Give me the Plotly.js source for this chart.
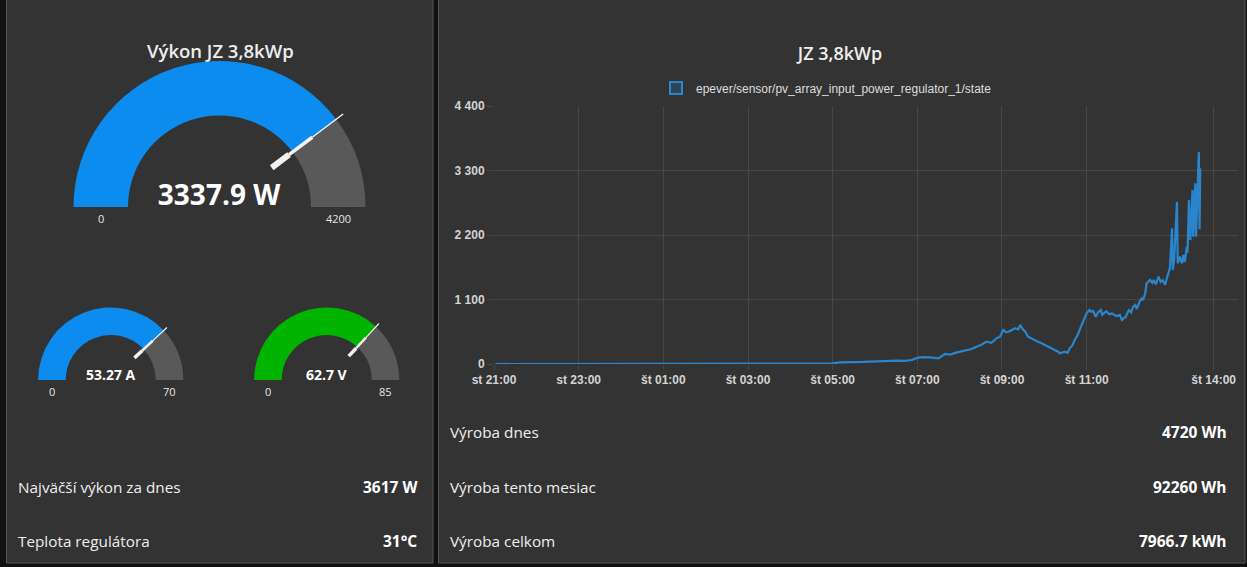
<!DOCTYPE html>
<html>
<head>
<meta charset="utf-8">
<script src="https://cdn.plot.ly/plotly-3.0.1.min.js"></script>
<style>
  html, body { margin: 0; padding: 0; background: #111111; }
  #chart { width: 1247px; height: 567px; }
</style>
</head>
<body>
<div id="chart"></div>
<script>
// ---------------- DATA ----------------
const chartTitle = 'JZ 3,8kWp';
const seriesName = 'epever/sensor/pv_array_input_power_regulator_1/state';

const powerTimes = [
  '2023-05-17 21:02', '2023-05-17 22:00', '2023-05-17 23:00', '2023-05-18 00:00',
  '2023-05-18 01:00', '2023-05-18 02:00', '2023-05-18 03:00', '2023-05-18 04:00',
  '2023-05-18 04:50', '2023-05-18 05:00', '2023-05-18 05:10', '2023-05-18 05:20',
  '2023-05-18 05:30', '2023-05-18 05:43', '2023-05-18 05:55', '2023-05-18 06:07',
  '2023-05-18 06:20', '2023-05-18 06:31', '2023-05-18 06:42', '2023-05-18 06:52',
  '2023-05-18 07:01', '2023-05-18 07:08', '2023-05-18 07:18', '2023-05-18 07:25',
  '2023-05-18 07:30', '2023-05-18 07:39', '2023-05-18 07:47', '2023-05-18 07:55',
  '2023-05-18 08:02', '2023-05-18 08:10', '2023-05-18 08:17', '2023-05-18 08:24',
  '2023-05-18 08:31', '2023-05-18 08:38', '2023-05-18 08:45', '2023-05-18 08:52',
  '2023-05-18 08:57', '2023-05-18 09:02', '2023-05-18 09:06', '2023-05-18 09:09',
  '2023-05-18 09:14', '2023-05-18 09:19', '2023-05-18 09:23', '2023-05-18 09:26',
  '2023-05-18 09:29', '2023-05-18 09:33', '2023-05-18 09:37', '2023-05-18 09:42',
  '2023-05-18 09:46', '2023-05-18 09:51', '2023-05-18 09:56', '2023-05-18 10:00',
  '2023-05-18 10:05', '2023-05-18 10:10', '2023-05-18 10:15', '2023-05-18 10:19',
  '2023-05-18 10:22', '2023-05-18 10:26', '2023-05-18 10:29', '2023-05-18 10:33',
  '2023-05-18 10:36', '2023-05-18 10:40', '2023-05-18 10:43', '2023-05-18 10:47',
  '2023-05-18 10:50', '2023-05-18 10:54', '2023-05-18 10:57', '2023-05-18 11:00',
  '2023-05-18 11:04', '2023-05-18 11:06', '2023-05-18 11:09', '2023-05-18 11:13',
  '2023-05-18 11:16', '2023-05-18 11:20', '2023-05-18 11:22', '2023-05-18 11:24',
  '2023-05-18 11:28', '2023-05-18 11:32', '2023-05-18 11:36', '2023-05-18 11:40',
  '2023-05-18 11:43', '2023-05-18 11:47', '2023-05-18 11:50', '2023-05-18 11:53',
  '2023-05-18 11:55', '2023-05-18 11:58', '2023-05-18 12:00', '2023-05-18 12:03',
  '2023-05-18 12:06', '2023-05-18 12:09', '2023-05-18 12:11', '2023-05-18 12:15',
  '2023-05-18 12:18', '2023-05-18 12:20', '2023-05-18 12:23', '2023-05-18 12:25',
  '2023-05-18 12:28', '2023-05-18 12:30', '2023-05-18 12:33', '2023-05-18 12:35',
  '2023-05-18 12:38', '2023-05-18 12:42', '2023-05-18 12:45', '2023-05-18 12:48',
  '2023-05-18 12:51', '2023-05-18 12:54', '2023-05-18 12:56', '2023-05-18 12:58',
  '2023-05-18 13:01', '2023-05-18 13:02', '2023-05-18 13:04', '2023-05-18 13:08',
  '2023-05-18 13:09', '2023-05-18 13:12', '2023-05-18 13:15', '2023-05-18 13:17',
  '2023-05-18 13:19', '2023-05-18 13:22', '2023-05-18 13:23', '2023-05-18 13:25',
  '2023-05-18 13:27', '2023-05-18 13:30', '2023-05-18 13:31', '2023-05-18 13:34',
  '2023-05-18 13:35', '2023-05-18 13:39', '2023-05-18 13:40', '2023-05-18 13:41'
];
const powerValues = [
  0, 0, 0, 0,
  0, 0, 0, 0,
  0, 10, 29, 25,
  33, 35, 42, 51,
  48, 57, 55, 68,
  108, 118, 114, 105,
  97, 171, 160, 193,
  210, 239, 255, 296,
  330, 381, 360, 438,
  466, 580, 540, 551,
  575, 609, 590, 665,
  600, 551, 466, 430,
  409, 380, 352, 330,
  296, 270, 239, 215,
  182, 200, 210, 190,
  267, 320, 409, 490,
  580, 700, 807, 870,
  921, 892, 905, 807,
  880, 921, 840, 864,
  900, 850, 864, 830,
  818, 836, 750, 790,
  796, 880, 921, 880,
  977, 1006, 940, 1063,
  1120, 1091, 1206, 1376,
  1420, 1433, 1387, 1433,
  1360, 1490, 1400, 1430,
  1350, 1460, 1550, 1640,
  2314, 1600, 1774, 2768,
  1717, 1830, 1717, 1860,
  1740, 2001, 1900, 2797,
  2115, 2967, 2172, 3081,
  2172, 3617, 2300, 3338
];

const xRange = ['2023-05-17 21:00', '2023-05-18 14:34:30'];
const xTickVals = ['2023-05-17 21:00', '2023-05-17 23:00', '2023-05-18 01:00', '2023-05-18 03:00',
                   '2023-05-18 05:00', '2023-05-18 07:00', '2023-05-18 09:00', '2023-05-18 11:00',
                   '2023-05-18 14:00'];
const xTickText = ['st 21:00', 'st 23:00', 'št 01:00', 'št 03:00', 'št 05:00', 'št 07:00',
                   'št 09:00', 'št 11:00', 'št 14:00'];
const yRange = [0, 4400];
const yTickVals = [0, 1100, 2200, 3300, 4400];
const yTickText = ['0', '1 100', '2 200', '3 300', '4 400'];

const gaugeTitle = 'Výkon JZ 3,8kWp';
const gaugeValues = [3337.9, 53.27, 62.7];
const gaugeMin = [0, 0, 0];
const gaugeMax = [4200, 70, 85];
const gaugeUnits = [' W', ' A', ' V'];
const gaugeFormats = ['.1f', '.2f', '.1f'];

const statLabelsLeft = ['Najväčší výkon za dnes', 'Teplota regulátora'];
const statValuesLeft = ['3617 W', '31°C'];
const statLabelsRight = ['Výroba dnes', 'Výroba tento mesiac', 'Výroba celkom'];
const statValuesRight = ['4720 Wh', '92260 Wh', '7966.7 kWh'];

// ---------------- LAYOUT / STYLE ----------------
const W = 1247, H = 567;
const px = x => x / W;
const py = y => 1 - y / H;
const INNER = 0.75; // plotly angular gauge inner radius ratio

const uiFont = 'Open Sans, Noto Sans, sans-serif';
const chartFont = 'Liberation Sans, Arial, sans-serif';
const gaugeColors = ['#0b8cee', '#0b8cee', '#00b400'];
const gaugeRest = '#595959';
const lineColor = '#2a86cc';
const gridColor = '#474747';

// pixel geometry of each gauge (center x, baseline y, outer radius, inner radius)
const gaugeGeom = [
  { cx: 219.5, base: 207, R: 146,  rIn: 91.5, needleW: [1.5, 3.5, 6],   numSize: 28, numY: 193.5 },
  { cx: 110.7, base: 380, R: 72.6, rIn: 45,   needleW: [1.2, 2.5, 3.5], numSize: 14, numY: 374 },
  { cx: 326.7, base: 380, R: 72.6, rIn: 45,   needleW: [1.2, 2.5, 3.5], numSize: 14, numY: 374 }
];

function dom(cx, base, R) {
  return { x: [px(cx - R), px(cx + R)], y: [py(base), py(base - R)] };
}

const traces = [];

// main line chart
traces.push({
  type: 'scatter', mode: 'lines', x: powerTimes, y: powerValues,
  name: seriesName, showlegend: false, legendgroup: 'pv',
  line: { color: lineColor, width: 2.2 }, xaxis: 'x', yaxis: 'y', hoverinfo: 'x+y'
});
// legend entry (box style, like the original legend)
traces.push({
  type: 'bar', x: [null], y: [null], name: seriesName, legendgroup: 'pv', showlegend: true,
  marker: { color: 'rgba(42,134,204,0.22)', line: { color: lineColor, width: 2 } },
  xaxis: 'x', yaxis: 'y', hoverinfo: 'skip'
});

// gauge bands (two concentric plotly gauges give the thick band)
gaugeValues.forEach((v, i) => {
  const g = gaugeGeom[i];
  const gaugeSpec = {
    shape: 'angular',
    axis: { range: [gaugeMin[i], gaugeMax[i]], visible: false },
    bar: { color: gaugeColors[i], thickness: 1, line: { width: 0 } },
    bgcolor: 'rgba(0,0,0,0)', borderwidth: 0,
    steps: [{ range: [v, gaugeMax[i]], color: gaugeRest, thickness: 1, line: { width: 0 } }]
  };
  traces.push({ type: 'indicator', mode: 'gauge', value: v,
    domain: dom(g.cx, g.base, g.R), gauge: gaugeSpec });
  traces.push({ type: 'indicator', mode: 'gauge', value: v,
    domain: dom(g.cx, g.base, g.rIn / INNER), gauge: gaugeSpec });
});
// needles: three transparent gauges whose thresholds form a tapered pointer
gaugeValues.forEach((v, i) => {
  const g = gaugeGeom[i];
  let r = g.R * 1.06;
  for (let k = 0; k < 3; k++) {
    traces.push({ type: 'indicator', mode: 'gauge', value: v,
      domain: dom(g.cx, g.base, r),
      gauge: { shape: 'angular',
        axis: { range: [gaugeMin[i], gaugeMax[i]], visible: false },
        bar: { color: 'rgba(0,0,0,0)', thickness: 0, line: { width: 0 } },
        bgcolor: 'rgba(0,0,0,0)', borderwidth: 0,
        threshold: { value: v, thickness: 1, line: { color: '#f2f2f2', width: g.needleW[k] } } } });
    r = r * INNER;
  }
});
// gauge readouts
gaugeValues.forEach((v, i) => {
  const g = gaugeGeom[i];
  const hh = g.numSize * 0.6;
  traces.push({ type: 'indicator', mode: 'number', value: v,
    domain: { x: [px(g.cx - g.R), px(g.cx + g.R)], y: [py(g.numY + hh), py(g.numY - hh)] },
    number: { suffix: gaugeUnits[i], valueformat: gaugeFormats[i],
      font: { family: uiFont, size: g.numSize, color: '#ffffff', weight: 700 } } });
});

const annotations = [];
annotations.push({ text: gaugeTitle, x: px(220), y: py(50), xref: 'paper', yref: 'paper',
  xanchor: 'center', yanchor: 'middle', showarrow: false,
  font: { family: uiFont, size: 18.5, color: '#eeeeee', weight: 600 } });
gaugeGeom.forEach((g, i) => {
  const mid = (g.R + g.rIn) / 2;
  annotations.push({ text: String(gaugeMin[i]), x: px(g.cx - mid), y: py(g.base + 11),
    xref: 'paper', yref: 'paper', xanchor: 'center', yanchor: 'middle', showarrow: false,
    font: { family: uiFont, size: 11, color: '#e6e6e6' } });
  annotations.push({ text: String(gaugeMax[i]), x: px(g.cx + mid), y: py(g.base + 11),
    xref: 'paper', yref: 'paper', xanchor: 'center', yanchor: 'middle', showarrow: false,
    font: { family: uiFont, size: 11, color: '#e6e6e6' } });
});
const leftRowsY = [487, 541];
statLabelsLeft.forEach((t, i) => {
  annotations.push({ text: t, x: px(16), y: py(leftRowsY[i]), xref: 'paper', yref: 'paper',
    xanchor: 'left', yanchor: 'middle', showarrow: false,
    font: { family: uiFont, size: 15.3, color: '#eeeeee' } });
  annotations.push({ text: statValuesLeft[i], x: px(419), y: py(leftRowsY[i]), xref: 'paper', yref: 'paper',
    xanchor: 'right', yanchor: 'middle', showarrow: false,
    font: { family: uiFont, size: 15.5, color: '#ffffff', weight: 700 } });
});
const rightRowsY = [432, 487, 541];
statLabelsRight.forEach((t, i) => {
  annotations.push({ text: t, x: px(448), y: py(rightRowsY[i]), xref: 'paper', yref: 'paper',
    xanchor: 'left', yanchor: 'middle', showarrow: false,
    font: { family: uiFont, size: 15.3, color: '#eeeeee' } });
  annotations.push({ text: statValuesRight[i], x: px(1229), y: py(rightRowsY[i]), xref: 'paper', yref: 'paper',
    xanchor: 'right', yanchor: 'middle', showarrow: false,
    font: { family: uiFont, size: 15.5, color: '#ffffff', weight: 700 } });
});

const shapes = [
  { type: 'rect', xref: 'paper', yref: 'paper', layer: 'below',
    x0: px(6.5), x1: px(433), y0: py(563), y1: py(-2),
    fillcolor: '#333333', line: { color: '#555555', width: 1 } },
  { type: 'rect', xref: 'paper', yref: 'paper', layer: 'below',
    x0: px(438.5), x1: px(1245), y0: py(563), y1: py(-2),
    fillcolor: '#333333', line: { color: '#555555', width: 1 } }
];

const layout = {
  width: W, height: H,
  margin: { l: 0, r: 0, t: 0, b: 0, pad: 0 },
  paper_bgcolor: '#111111', plot_bgcolor: 'rgba(0,0,0,0)',
  showlegend: true,
  title: { text: chartTitle, x: px(840), xanchor: 'center', y: py(54), yanchor: 'middle',
    font: { family: uiFont, size: 18, color: '#eeeeee', weight: 600 } },
  legend: { orientation: 'h', x: px(656), xanchor: 'left', y: py(88), yanchor: 'middle',
    bgcolor: 'rgba(0,0,0,0)', font: { family: chartFont, size: 12, color: '#dddddd' } },
  xaxis: {
    type: 'date', domain: [px(494), px(1238)], range: xRange,
    tickvals: xTickVals, ticktext: xTickText,
    showgrid: true, gridcolor: gridColor, gridwidth: 1, zeroline: false, showline: false,
    ticks: 'outside', ticklen: 5, tickcolor: gridColor,
    tickfont: { family: chartFont, size: 12, color: '#d4d4d4', weight: 700 }, fixedrange: true
  },
  yaxis: {
    domain: [py(364), py(106)], range: yRange,
    tickvals: yTickVals, ticktext: yTickText,
    showgrid: true, gridcolor: gridColor, gridwidth: 1, zeroline: false, showline: false,
    ticks: 'outside', ticklen: 6, tickcolor: gridColor,
    tickfont: { family: chartFont, size: 12, color: '#d4d4d4', weight: 700 }, fixedrange: true
  },
  annotations: annotations,
  shapes: shapes
};

Plotly.newPlot('chart', traces, layout, { displayModeBar: false, staticPlot: true });
</script>
</body>
</html>
